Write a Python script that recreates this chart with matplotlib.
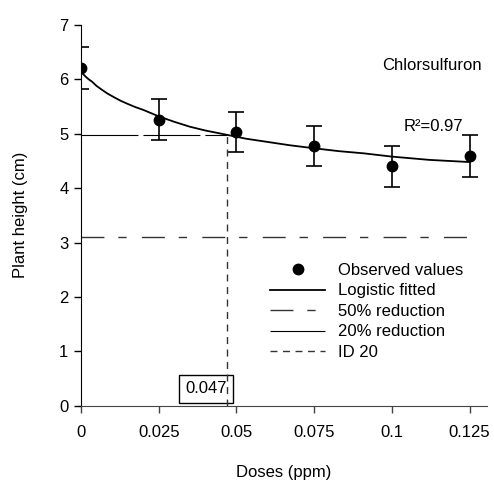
import matplotlib
matplotlib.use('Agg')
import matplotlib.pyplot as plt
from matplotlib.lines import Line2D

plt.rcParams['font.family'] = ['Liberation Sans', 'DejaVu Sans']
plt.rcParams['lines.scale_dashes'] = False

# observed values (mean and error)
doses = [0, 0.025, 0.05, 0.075, 0.1, 0.125]
height = [6.21, 5.26, 5.03, 4.77, 4.40, 4.59]
height_err = [0.38, 0.38, 0.37, 0.37, 0.37, 0.38]

# logistic fitted curve
fit_dose = [0, 0.0008, 0.0015, 0.0025, 0.0035, 0.005, 0.0067, 0.0085, 0.011,
            0.013, 0.015, 0.0175, 0.02, 0.025, 0.03, 0.035, 0.04, 0.047,
            0.053, 0.06, 0.067, 0.074, 0.083, 0.091, 0.1, 0.112, 0.125]
fit_height = [6.15, 6.09, 6.05, 6.00, 5.96, 5.88, 5.81, 5.74, 5.66,
              5.60, 5.55, 5.49, 5.44, 5.32, 5.22, 5.13, 5.06, 4.98,
              4.91, 4.85, 4.79, 4.74, 4.68, 4.64, 4.58, 4.52, 4.48]

reduction_50 = 3.1
reduction_20 = 4.97
id20 = 0.047
r2 = 0.97
x_ticks = [0, 0.025, 0.05, 0.075, 0.1, 0.125]
x_labels = ['0', '0.025', '0.05', '0.075', '0.1', '0.125']

fig = plt.figure(figsize=(4.94, 4.83), dpi=100)
ax = fig.add_axes([81 / 494, 77.3 / 483, 406 / 494, 380.7 / 483])

ax.errorbar(doses, height, yerr=height_err, fmt='none', ecolor='black',
            elinewidth=1.2, capsize=6, capthick=1.2, zorder=4)
ax.plot(doses, height, 'o', color='black', markersize=7.5, zorder=5)
ax.plot(fit_dose, fit_height, '-', color='black', lw=1.3, zorder=3)

ax.plot([0, 0.125], [reduction_50, reduction_50], color='#333333', lw=1,
        dashes=[16.5, 10, 6, 11])
ax.plot([0, id20], [reduction_20, reduction_20], color='black', lw=0.8,
        dashes=[41, 3.6])
ax.plot([id20, id20], [0, reduction_20], color='#333333', lw=1,
        dashes=[5, 4], zorder=6)

ax.text(0.0402, 0.31, '%.3f' % id20, ha='center', va='center', fontsize=12,
        bbox=dict(boxstyle='square,pad=0.4', fc='white', ec='black', lw=1),
        zorder=5)

ax.text(0.0968, 6.26, 'Chlorsulfuron', ha='left', va='center', fontsize=12)
ax.text(0.1039, 5.14, 'R\u00b2=%.2f' % r2, ha='left', va='center', fontsize=12)

ax.set_xlim(0, 0.1306)
ax.set_ylim(0, 7)
ax.set_xticks(x_ticks)
ax.set_xticklabels(x_labels)
ax.set_yticks(range(0, 8))
ax.spines['top'].set_visible(False)
ax.spines['right'].set_visible(False)
ax.spines['bottom'].set_color('#444444')
ax.tick_params(axis='both', direction='out', length=5, labelsize=12, width=1)
ax.tick_params(axis='x', pad=9, color='#444444')
ax.tick_params(axis='y', pad=4)

fig.text(21 / 494, 1 - 215 / 483, 'Plant height (cm)', rotation=90,
         ha='center', va='center', fontsize=12)
fig.text(284 / 494, 1 - 472 / 483, 'Doses (ppm)', ha='center', va='center',
         fontsize=12)

handles = [
    Line2D([], [], ls='none', marker='o', color='black', markersize=7.5),
    Line2D([], [], color='black', lw=1.3),
    Line2D([], [], color='#333333', lw=1, dashes=[16.5, 10, 6, 11]),
    Line2D([], [], color='black', lw=0.8, dashes=[41, 3.6]),
    Line2D([], [], color='#333333', lw=1, dashes=[5, 4]),
]
labels = ['Observed values', 'Logistic fitted', '50% reduction',
          '20% reduction', 'ID 20']
fig.legend(handles, labels, loc='upper left',
           bbox_to_anchor=(270 / 494, 1 - 263 / 483), frameon=False,
           fontsize=12, handlelength=3.3, handletextpad=0.8,
           labelspacing=0.33, borderpad=0, borderaxespad=0)

fig.savefig('out.png', dpi=100)
